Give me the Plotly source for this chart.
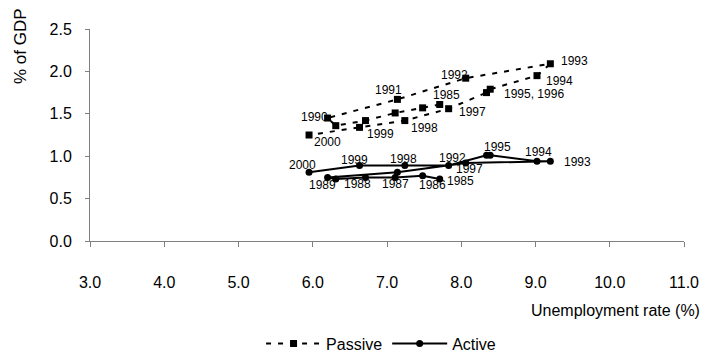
import plotly.graph_objects as go

years = list(range(1985, 2001))
unemployment = [7.71, 7.48, 7.11, 6.71, 6.31, 6.20, 7.14, 8.06, 9.20, 9.02, 8.39, 8.34, 7.83, 7.24, 6.63, 5.95]
passive = [1.61, 1.57, 1.51, 1.42, 1.36, 1.45, 1.67, 1.92, 2.09, 1.95, 1.79, 1.75, 1.56, 1.42, 1.34, 1.25]
active = [0.73, 0.77, 0.75, 0.75, 0.73, 0.75, 0.81, 0.92, 0.94, 0.94, 1.01, 1.01, 0.89, 0.89, 0.89, 0.81]

passive_labels = ["1985", "", "", "", "", "1990", "1991", "1992", "1993", "1994", "1995, 1996", "", "1997", "1998", "1999", "2000"]
active_labels = ["1985", "1986", "1987", "1988", "1989", "", "", "1992", "1993", "1994", "1995", "", "1997", "1998", "1999", "2000"]

x_ticks = [3.0, 4.0, 5.0, 6.0, 7.0, 8.0, 9.0, 10.0, 11.0]
y_ticks = [0.0, 0.5, 1.0, 1.5, 2.0, 2.5]

# label placement styles (pixel offsets: dx right, dy down, anchor)
passive_offsets = {
    "1985": (7, -9, "center"), "1990": (-13, -1, "center"), "1991": (-9, -9, "center"),
    "1992": (-11, -3, "center"), "1993": (9, -3, "left"), "1994": (23, 5, "center"),
    "1995, 1996": (12, 5, "left"), "1997": (24, 3, "center"), "1998": (20, 7, "center"),
    "1999": (21, 7, "center"), "2000": (18, 7, "center"),
}
active_offsets = {
    "1985": (21, 2, "center"), "1986": (10, 9, "center"), "1987": (0, 7, "center"),
    "1988": (-8, 7, "center"), "1989": (-13, 6, "center"), "1992": (-13, -5, "center"),
    "1993": (27, 1, "center"), "1994": (2, -9, "center"), "1995": (7, -8, "center"),
    "1997": (21, 3, "center"), "1998": (-1, -7, "center"), "1999": (-5, -6, "center"),
    "2000": (-7, -7, "center"),
}

FONT = "Liberation Sans, Arial, sans-serif"

fig = go.Figure()
fig.add_trace(go.Scatter(
    x=unemployment, y=passive, mode="lines+markers", name="Passive",
    line=dict(color="black", width=2, dash="5px,7px"),
    marker=dict(symbol="square", size=7, color="black"),
))
fig.add_trace(go.Scatter(
    x=unemployment, y=active, mode="lines+markers", name="Active",
    line=dict(color="black", width=2),
    marker=dict(symbol="circle", size=7, color="black"),
))

annotations = []
for xs, ys, labels, offs in [(unemployment, passive, passive_labels, passive_offsets),
                             (unemployment, active, active_labels, active_offsets)]:
    for xv, yv, lab in zip(xs, ys, labels):
        if not lab:
            continue
        dx, dy, anchor = offs[lab]
        annotations.append(dict(
            x=xv, y=yv, xref="x", yref="y", text=lab, showarrow=False,
            xanchor=anchor, yanchor="middle", xshift=dx, yshift=-dy,
            font=dict(family=FONT, size=12, color="black"),
        ))

annotations.append(dict(
    x=-0.116, y=0.92, xref="paper", yref="paper", text="% of GDP", showarrow=False,
    textangle=-90, xanchor="center", yanchor="middle",
    font=dict(family=FONT, size=17, color="black"),
))
annotations.append(dict(
    x=1.030, y=-0.33, xref="paper", yref="paper", text="Unemployment rate (%)", showarrow=False,
    xanchor="right", yanchor="middle",
    font=dict(family=FONT, size=16, color="black"),
))

fig.update_layout(
    width=705, height=358,
    margin=dict(l=90, r=21, t=29, b=117),
    paper_bgcolor="white", plot_bgcolor="white",
    font=dict(family=FONT, size=16, color="black"),
    showlegend=True,
    legend=dict(orientation="h", x=0.49, xanchor="center",
                yref="container", y=0.04, yanchor="middle",
                font=dict(family=FONT, size=16, color="black"), itemwidth=55,
                bgcolor="rgba(0,0,0,0)"),
    annotations=annotations,
)
fig.update_xaxes(
    range=[3, 11], tickvals=x_ticks, ticktext=[f"{v:.1f}" for v in x_ticks],
    showgrid=False, zeroline=False, showline=True, linecolor="#808080", linewidth=1,
    ticks="outside", ticklen=5, tickcolor="#808080", ticklabelstandoff=22,
    tickfont=dict(family=FONT, size=16, color="black"), automargin=False,
)
fig.update_yaxes(
    range=[0, 2.5], tickvals=y_ticks, ticktext=[f"{v:.1f}" for v in y_ticks],
    showgrid=False, zeroline=False, showline=True, linecolor="#808080", linewidth=1,
    ticks="outside", ticklen=4, tickcolor="#808080", ticklabelstandoff=10,
    tickfont=dict(family=FONT, size=16, color="black"), automargin=False,
)

fig.write_html(
    "out.html",
    config={"displayModeBar": False},
    post_script="document.body.style.margin='0';document.body.style.overflow='hidden';",
)
